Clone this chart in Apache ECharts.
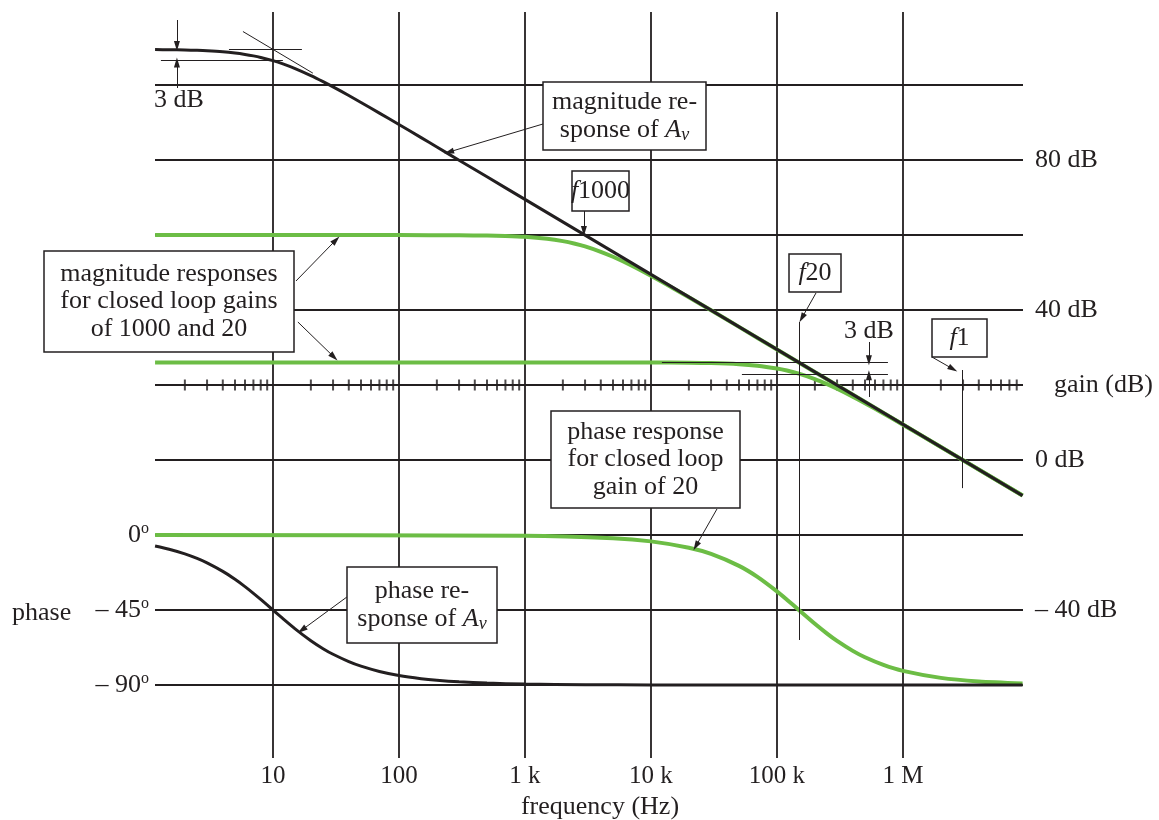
<!DOCTYPE html>
<html><head><meta charset="utf-8">
<script src="https://cdn.jsdelivr.net/npm/echarts@6/dist/echarts.min.js"></script>
<style>html,body{margin:0;padding:0;background:#fff}#c{width:1159px;height:820px}</style>
</head><body><div id="c"></div>
<script>
// ---------------- data ----------------
const decadeFreqs  = [10, 100, 1000, 10000, 100000, 1000000];
const decadeLabels = ['10', '100', '1 k', '10 k', '100 k', '1 M'];
const gainGridDb   = [100, 80, 60, 40, 0, -20, -40, -60];
const gainAxisDb   = 20;
const gainLabelsDb = [80, 40, 0, -40];
const phaseLabelsDeg = [0, -45, -90];
const minorTickMantissas = [2, 3, 4, 5, 6, 7, 8, 9];
const minorTickDecades   = [1, 10, 100, 1000, 10000, 100000, 1000000];
const freqMaxHz = 8.9e6;

// open-loop magnitude |Av| (dB)
const openMagFreq = [1.16, 1.5, 2, 2.5, 3, 4, 5, 6, 7, 8, 10, 12, 15, 20, 25, 30, 40, 50, 70, 100, 150, 200, 300, 500, 1000, 10000, 100000, 1000000, 8.9e6];
const openMagDb   = [109.44, 109.40, 109.33, 109.24, 109.13, 108.86, 108.53, 108.16, 107.77, 107.35, 106.49, 105.63, 104.38, 102.51, 100.90, 99.50, 97.20, 95.35, 92.51, 89.46, 85.96, 83.47, 79.95, 75.52, 69.50, 49.50, 29.5, 9.5, -9.49];
// closed loop gain 1000 magnitude (dB)
const cl1000Freq = [1.16, 100, 300, 500, 700, 1000, 1500, 2000, 2500, 3000, 4000, 5000, 7000, 10000, 15000, 20000, 30000, 50000, 100000, 1000000, 8.9e6];
const cl1000Db   = [59.97, 59.97, 59.93, 59.85, 59.73, 59.51, 58.99, 58.37, 57.67, 56.95, 55.52, 54.19, 51.87, 49.12, 45.81, 43.38, 39.91, 35.5, 29.47, 9.5, -9.49];
// closed loop gain 20 magnitude (dB)
const cl20Freq = [1.16, 1000, 10000, 20000, 30000, 50000, 70000, 100000, 120000, 149300, 200000, 250000, 300000, 400000, 500000, 700000, 1000000, 2000000, 3000000, 8.9e6];
const cl20Db   = [26.02, 26.02, 26.0, 25.94, 25.85, 25.56, 25.16, 24.41, 23.86, 23.01, 21.56, 20.22, 19.0, 16.89, 15.15, 12.41, 9.41, 3.46, -0.05, -9.49];
// open-loop phase (deg)
const openPhFreq = [1.16, 1.5, 2, 2.5, 3, 4, 5, 6, 7, 8, 10, 12, 15, 20, 25, 30, 40, 50, 70, 100, 150, 200, 300, 500, 1000, 3000, 10000, 100000, 8.9e6];
const openPhDeg  = [-6.62, -8.53, -11.31, -14.04, -16.70, -21.80, -26.57, -30.96, -34.99, -38.66, -45, -50.19, -56.31, -63.43, -68.20, -71.57, -75.96, -78.69, -81.87, -84.29, -86.19, -87.14, -88.09, -88.85, -89.43, -89.81, -89.94, -90, -90];
// closed loop gain 20 phase (deg)
const cl20PhFreq = [1.16, 1000, 5000, 10000, 20000, 30000, 50000, 70000, 100000, 120000, 149300, 200000, 250000, 300000, 400000, 500000, 700000, 1000000, 2000000, 4000000, 8.9e6];
const cl20PhDeg  = [0, -0.38, -1.92, -3.83, -7.63, -11.36, -18.52, -25.12, -33.81, -38.79, -45, -53.26, -59.15, -63.54, -69.53, -73.37, -77.96, -81.51, -85.73, -87.86, -89.04];

// annotation guide lines [log10 f1, dB1, log10 f2, dB2]
const guideLines = [
  [0.111, 106.5, 1.079, 106.5],
  [0.651, 109.5, 1.23, 109.5],
  [0.762, 114.26, 1.317, 103.16],
  [4.087, 26.02, 5.881, 26.02],
  [4.722, 23.0, 5.881, 23.0],
  [5.174, 36.8, 5.174, -48],
  [6.468, 24, 6.468, -7.5]
];
// annotation arrows, head at second point
const arrowLines = [
  [0.238, 117.33, 0.238, 110.4],
  [0.238, 99.2, 0.238, 106.0],
  [5.730, 31.47, 5.730, 26.6],
  [5.730, 16.8, 5.730, 22.6],
  [3.143, 89.6, 2.397, 82.13],
  [3.468, 66.4, 3.468, 61.07],
  [1.183, 47.73, 1.5, 58.67],
  [1.198, 36.8, 1.484, 27.47],
  [5.31, 44.53, 5.198, 37.87],
  [6.23, 27.47, 6.397, 24.27],
  [4.524, -13.07, 4.357, -22.93],
  [1.587, -36.53, 1.230, -45.33]
];

// ---------------- chart ----------------
const FONT = 'Liberation Serif';
const INK = '#231f20';
const GREEN = '#6cbd45';
const lg = f => Math.log10(f);
const pts = (fs, vs) => fs.map((f, i) => [lg(f), vs[i]]);

const DB_MIN = -79.467, DB_MAX = 119.467;
const PH_MIN = (DB_MIN + 20) * 2.25, PH_MAX = (DB_MAX + 20) * 2.25;

const minorTicks = [];
minorTickDecades.forEach(d => minorTickMantissas.forEach(m => {
  if (m * d <= freqMaxHz) minorTicks.push([lg(m * d), gainAxisDb]);
}));

const gridLineData = decadeFreqs.map(f => ({ xAxis: lg(f) }))
  .concat(gainGridDb.map(d => ({ yAxis: d })))
  .concat([{ yAxis: gainAxisDb }]);

const guideData = guideLines.map(a => [
  { coord: [a[0], a[1]], symbol: 'none' },
  { coord: [a[2], a[3]], symbol: 'none' }
]);
const arrowData = arrowLines.map(a => [
  { coord: [a[0], a[1]], symbol: 'none' },
  { coord: [a[2], a[3]], symbol: 'triangle', symbolSize: [6, 10] }
]);

const txt = (s, extra) => Object.assign({
  fill: INK, fontSize: 26, fontFamily: FONT,
  align: 'center', verticalAlign: 'middle', textAlign: 'center', textVerticalAlign: 'middle'
}, s, extra || {});
const richStyles = {
  i:   { fontStyle: 'italic', fontSize: 26, fontFamily: FONT, fill: INK, color: INK },
  sub: { fontStyle: 'italic', fontSize: 18, fontFamily: FONT, fill: INK, color: INK, verticalAlign: 'bottom', lineHeight: 18 }
};
function box(x, y, w, h, text, lh) {
  return [
    { type: 'rect', z: 100, shape: { x: x, y: y, width: w, height: h },
      style: { fill: '#fff', stroke: INK, lineWidth: 1.5 }, silent: true },
    { type: 'text', z: 101, silent: true,
      style: txt({ text: text, x: x + w / 2, y: y + h / 2, lineHeight: lh || 28, rich: richStyles }) }
  ];
}

const graphics = [].concat(
  box(543, 82, 163, 68, 'magnitude re-\nsponse of {i|A}{sub|v}', 28),
  box(572, 171, 57, 40, '{i|f}1000'),
  box(44, 251, 250, 101, 'magnitude responses\nfor closed loop gains\nof 1000 and 20', 27.5),
  box(789, 254, 52, 38, '{i|f}20'),
  box(932, 319, 55, 38, '{i|f}1'),
  box(551, 411, 189, 97, 'phase response\nfor closed loop\ngain of 20', 27.5),
  box(347, 567, 150, 76, 'phase re-\nsponse of {i|A}{sub|v}', 28.5),
  [
    { type: 'text', z: 101, silent: true, style: txt({ text: '3 dB', x: 179, y: 100 }) },
    { type: 'text', z: 101, silent: true, style: txt({ text: '3 dB', x: 869, y: 331 }) },
    { type: 'text', z: 101, silent: true, style: txt({ text: 'gain (dB)', x: 1054, y: 385, align: 'left', textAlign: 'left' }) },
    { type: 'text', z: 101, silent: true, style: txt({ text: 'phase', x: 12, y: 613, align: 'left', textAlign: 'left' }) },
    { type: 'text', z: 101, silent: true, style: txt({ text: 'frequency (Hz)', x: 600, y: 807 }) }
  ]
);

const lineCommon = { type: 'line', silent: true, showSymbol: false, smooth: 0.25 };

const chart = echarts.init(document.getElementById('c'), null, { renderer: 'canvas' });
chart.setOption({
  animation: false,
  backgroundColor: '#fff',
  grid: { left: 155, right: 136, top: 12, bottom: 62, containLabel: false },
  xAxis: {
    type: 'value', min: lg(1.1588), max: lg(1.1588) + 868 / 126,
    axisLine: { show: false }, axisTick: { show: false }, splitLine: { show: false },
    axisLabel: {
      customValues: decadeFreqs.map(lg), margin: 6,
      fontFamily: FONT, fontSize: 25, color: INK,
      formatter: v => { const i = decadeFreqs.findIndex(f => Math.abs(lg(f) - v) < 1e-6); return i >= 0 ? decadeLabels[i] : ''; }
    }
  },
  yAxis: [
    {
      type: 'value', position: 'right', min: DB_MIN, max: DB_MAX,
      axisLine: { show: false }, axisTick: { show: false }, splitLine: { show: false },
      axisLabel: {
        customValues: gainLabelsDb, margin: 12, fontFamily: FONT, fontSize: 26, color: INK,
        formatter: v => (v < 0 ? '\u2013 ' + (-v) : '' + v) + ' dB'
      }
    },
    {
      type: 'value', position: 'left', min: PH_MIN, max: PH_MAX,
      axisLine: { show: false }, axisTick: { show: false }, splitLine: { show: false },
      axisLabel: {
        customValues: phaseLabelsDeg, margin: 6,
        formatter: v => '{n|' + (v < 0 ? '\u2013 ' + (-v) : '' + v) + '}{s|o}',
        rich: {
          n: { fontFamily: FONT, fontSize: 26, color: INK, lineHeight: 28 },
          s: { fontFamily: FONT, fontSize: 16, color: INK, verticalAlign: 'top', lineHeight: 16 }
        }
      }
    }
  ],
  series: [
    {
      name: 'ticks', type: 'scatter', z: 2, silent: true,
      symbol: 'rect', symbolSize: [2, 11], itemStyle: { color: INK },
      data: minorTicks,
      markLine: {
        silent: true, z: 1, symbol: ['none', 'none'], label: { show: false },
        lineStyle: { color: INK, width: 1.8, type: 'solid' },
        emphasis: { disabled: true },
        data: gridLineData
      }
    },
    Object.assign({ name: 'cl1000', z: 3, lineStyle: { color: GREEN, width: 4 }, data: pts(cl1000Freq, cl1000Db) }, lineCommon),
    Object.assign({ name: 'cl20', z: 3, lineStyle: { color: GREEN, width: 4 }, data: pts(cl20Freq, cl20Db) }, lineCommon),
    Object.assign({ name: 'cl20phase', yAxisIndex: 1, z: 3, lineStyle: { color: GREEN, width: 4 }, data: pts(cl20PhFreq, cl20PhDeg) }, lineCommon),
    Object.assign({ name: 'openMag', z: 4, lineStyle: { color: INK, width: 3 }, data: pts(openMagFreq, openMagDb),
      markLine: {
        silent: true, z: 6, symbol: ['none', 'none'], label: { show: false },
        lineStyle: { color: INK, width: 1, type: 'solid' },
        emphasis: { disabled: true },
        data: guideData.concat(arrowData)
      }
    }, lineCommon),
    Object.assign({ name: 'openPhase', yAxisIndex: 1, z: 4, lineStyle: { color: INK, width: 3 }, data: pts(openPhFreq, openPhDeg) }, lineCommon)
  ],
  graphic: { elements: graphics }
});
</script>
</body></html>
